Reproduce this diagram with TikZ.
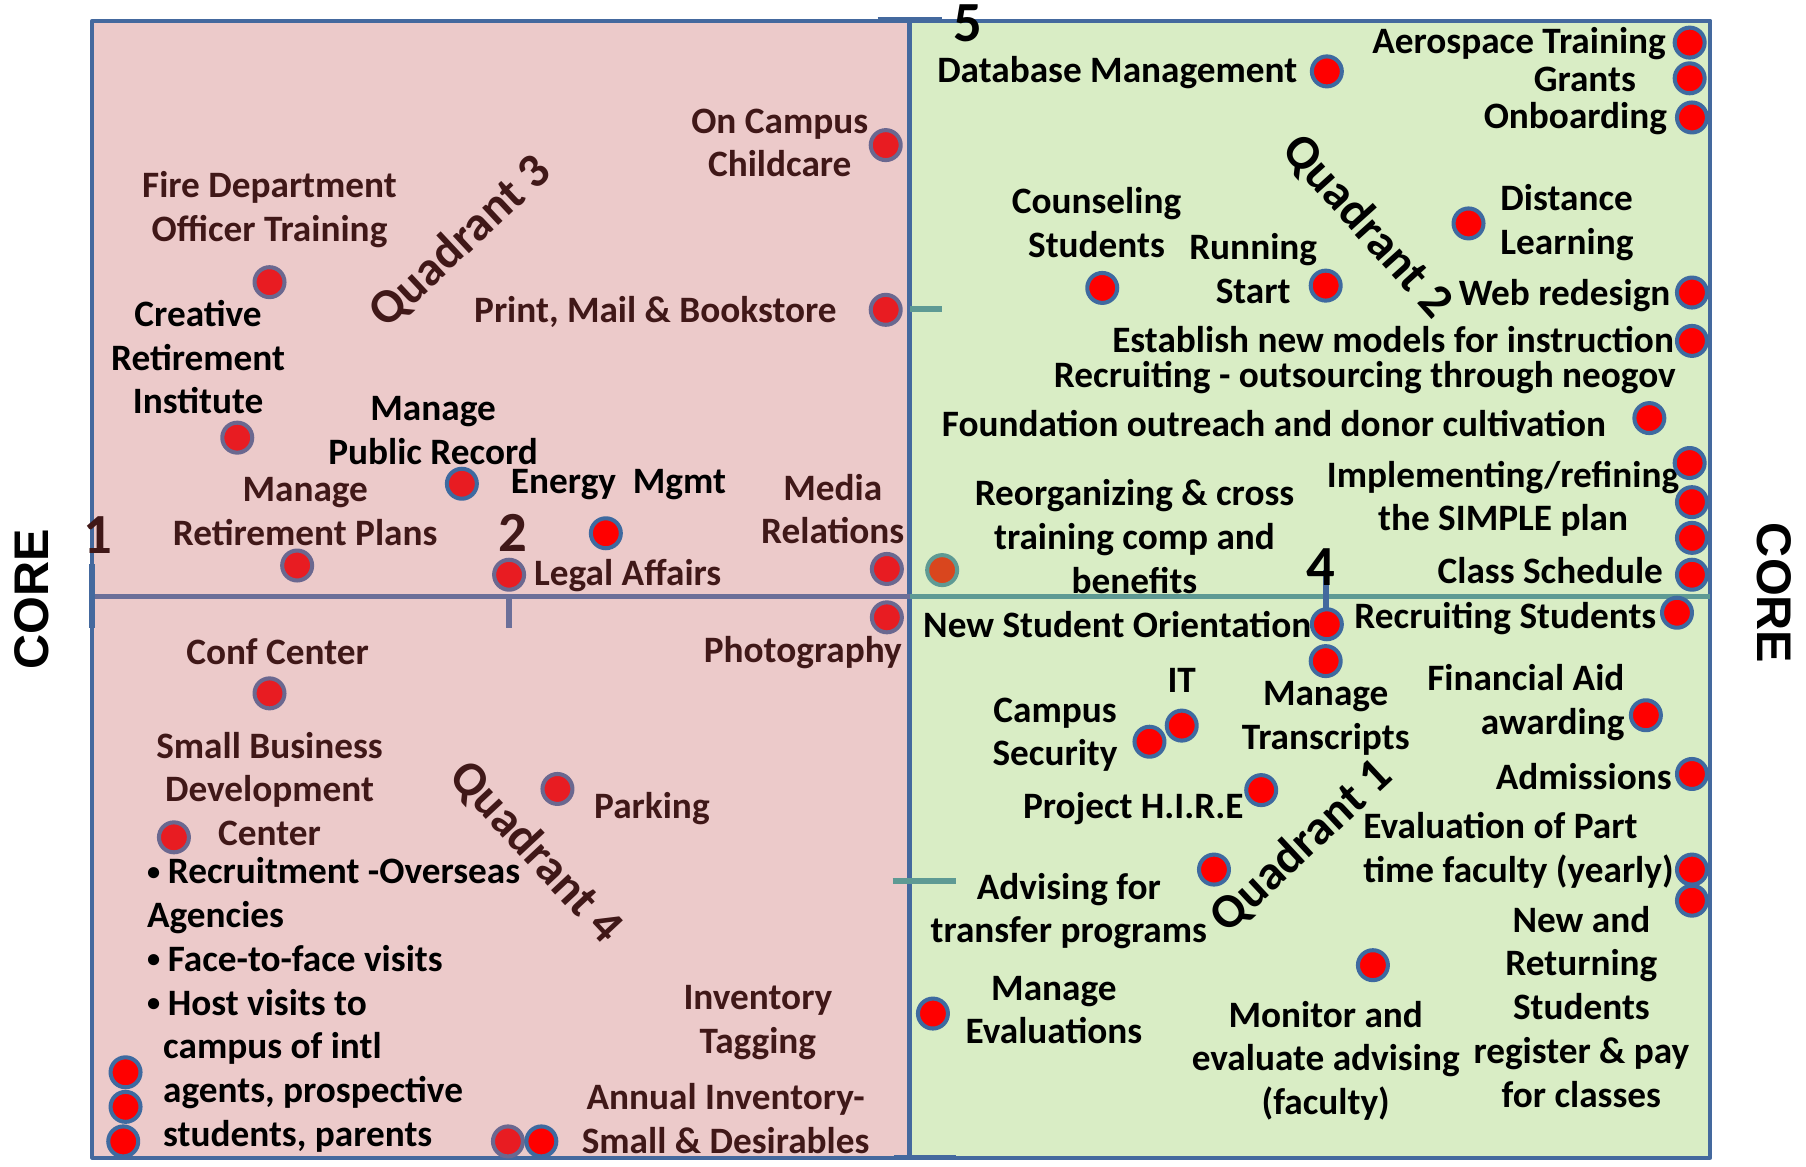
\documentclass[tikz,border=0pt]{standalone}
\usepackage{fontspec}
\setmainfont{Carlito}
\newfontfamily\corefont{Liberation Sans}
\definecolor{pinkbg}{RGB}{236,202,202}
\definecolor{greenbg}{RGB}{217,237,197}
\definecolor{frameblue}{RGB}{68,105,158}
\definecolor{midpurple}{RGB}{107,111,153}
\definecolor{midteal}{RGB}{94,154,148}
\definecolor{txtbrown}{RGB}{64,24,24}
\definecolor{dotred}{RGB}{255,0,0}
\definecolor{ldotred}{RGB}{232,28,34}
\definecolor{ldotedge}{RGB}{106,104,144}
\definecolor{rdotedge}{RGB}{62,106,160}
\definecolor{odot}{RGB}{217,70,30}
\newcommand{\lblfont}{\bfseries\fontsize{9.2}{10.8}\selectfont}
\newcommand{\bul}{\makebox[1.8mm][l]{\raisebox{0.2ex}{\fontsize{6.5}{7}\selectfont\textbullet}}}
\begin{document}
\begin{tikzpicture}[x=0.01cm,y=-0.01cm,line join=round,
    lbl/.style={font=\lblfont,text=txtbrown,align=center,inner sep=0pt},
    rlbl/.style={lbl,text=black},
    numlbl/.style={font=\bfseries\fontsize{14}{16}\selectfont,inner sep=0pt},
    quad/.style={font=\bfseries\fontsize{12}{14}\selectfont,inner sep=0pt},
    ldot/.style={circle,fill=ldotred,draw=ldotedge,line width=1pt,minimum size=0.26cm,inner sep=0pt},
    rdot/.style={circle,fill=dotred,draw=rdotedge,line width=1pt,minimum size=0.26cm,inner sep=0pt},
    tick/.style={line width=1.4pt}]
\useasboundingbox (0,0) rectangle (1568,1013);
% quadrant backgrounds
\fill[pinkbg] (80,18) rectangle (790,1005);
\fill[greenbg] (790,18) rectangle (1485,1005);
\draw[frameblue,line width=1pt] (80,18) rectangle (1485,1005);
\draw[frameblue,line width=1.2pt] (790,18) -- (790,1005);
\draw[midpurple,line width=1.4pt] (80,518) -- (790,518);
\draw[midteal,line width=1.4pt] (790,518) -- (1485,518);
% ticks
\draw[tick,frameblue] (80,490) -- (80,545);
\draw[tick,midpurple] (442,518) -- (442,545);
\draw[tick,frameblue] (762,17) -- (818,17);
\draw[tick,frameblue] (776,1005) -- (830,1005);
\draw[tick,midteal] (790,268) -- (818,268);
\draw[tick,midteal] (775,765) -- (830,765);
\draw[tick,frameblue] (1151,495) -- (1151,535);

% core labels
\node[font=\corefont\bfseries\fontsize{12}{14}\selectfont,rotate=90,inner sep=0pt] (coreL) at (28,520) {CORE};
\node[font=\corefont\bfseries\fontsize{12}{14}\selectfont,rotate=-90,inner sep=0pt] (coreR) at (1540,515) {CORE};

% numbers
\node[numlbl,text=txtbrown] (n1) at (85,465) {1};
\node[numlbl,text=txtbrown] (n2) at (445,463) {2};
\node[numlbl] (n4) at (1147,492) {4};
\node[numlbl] (n5) at (840,20) {5};

% quadrant names
\node[quad,text=txtbrown,rotate=43] (q3) at (400,210) {Quadrant 3};
\node[quad,rotate=-48] (q2) at (1187,197) {Quadrant 2};
\node[quad,rotate=43] (q1) at (1130,735) {Quadrant 1};
\node[quad,text=txtbrown,rotate=-47] (q4) at (465,740) {Quadrant 4};

% left half
\node[lbl] (childcare) at (677,124) {On Campus\\Childcare};
\node[lbl] (fire) at (234,182) {Fire Department\\Officer Training};
\node[rlbl] (creative) at (172,310) {Creative\\Retirement\\Institute};
\node[lbl] (print) at (569,271) {Print, Mail \& Bookstore};
\node[rlbl] (pubrec) at (376,374) {Manage\\Public Record};
\node[lbl] (retplan) at (265,444) {Manage\\Retirement Plans};
\node[rlbl] (energy) at (537,421) {Energy\ \ Mgmt};
\node[lbl] (media) at (723,442) {Media\\Relations};
\node[lbl] (legal) at (545,500) {Legal Affairs};
\node[lbl] (photo) at (697,567) {Photography};
\node[lbl] (conf) at (241,566) {Conf Center};
\node[lbl] (sbdc) at (234,685) {Small Business\\Development\\Center};
\node[lbl] (parking) at (566,702) {Parking};
\node[lbl] (invtag) at (658,888) {Inventory\\Tagging};
\node[lbl] (annual) at (630,971) {Annual Inventory-\\Small \& Desirables};
\node[rlbl,align=left,anchor=north west] (recruit) at (127,744)
  {\bul Recruitment -Overseas\\
   Agencies\\
   \bul Face-to-face visits\\
   \bul Host visits to\\
   \hspace*{1.4mm}campus of intl\\
   \hspace*{1.4mm}agents, prospective\\
   \hspace*{1.4mm}students, parents};

\node[ldot] (dchild) at (769,126) {};
\node[ldot] (dfire) at (234,245) {};
\node[ldot] (dprint) at (769,269) {};
\node[ldot] (dcreative) at (206,380) {};
\node[ldot,draw=rdotedge] (dpubrec) at (401,420) {};
\node[ldot,draw=rdotedge,fill=dotred] (denergy) at (526,463) {};
\node[ldot] (dretplan) at (258,491) {};
\node[ldot] (dlegal) at (442,499) {};
\node[ldot] (dmedia) at (770,494) {};
\node[ldot] (dphoto) at (770,536) {};
\node[ldot] (dconf) at (234,602) {};
\node[ldot] (dparking) at (484,685) {};
\node[ldot] (dsbdc) at (151,727) {};
\node[rdot] (drec1) at (109,931) {};
\node[rdot] (drec2) at (109,961) {};
\node[rdot] (drec3) at (107,991) {};
\node[ldot] (dinv1) at (441,991) {};
\node[rdot] (dinv2) at (470,991) {};

% right half
\node[rlbl] (dbm) at (970,63) {Database Management};
\node[rlbl,anchor=east] (aero) at (1447,38) {Aerospace Training};
\node[rlbl] (grants) at (1376,69) {Grants};
\node[rlbl,anchor=east] (onb) at (1448,103) {Onboarding};
\node[rlbl] (couns) at (952,193) {Counseling\\Students};
\node[rlbl] (run) at (1088,233) {Running\\Start};
\node[rlbl,anchor=west,align=left] (dist) at (1302,193) {Distance\\Learning};
\node[rlbl,anchor=east] (web) at (1451,257) {Web redesign};
\node[rlbl,anchor=east] (estab) at (1454,295) {Establish new models for instruction};
\node[rlbl] (neogov) at (1185,328) {Recruiting - outsourcing through neogov};
\node[rlbl] (found) at (1106,368) {Foundation outreach and donor cultivation};
\node[rlbl] (reorg) at (985,466) {Reorganizing \& cross\\training comp and\\benefits};
\node[rlbl] (simple) at (1305,433) {Implementing/refining\\the SIMPLE plan};
\node[rlbl] (class) at (1346,495) {Class Schedule};
\node[rlbl] (nso) at (970,542) {New Student Orientation};
\node[rlbl] (recstud) at (1307,537) {Recruiting Students};
\node[rlbl] (it) at (1026,591) {IT};
\node[rlbl] (campsec) at (916,638) {Campus\\Security};
\node[rlbl] (trans) at (1151,624) {Manage\\Transcripts};
\node[rlbl,anchor=east,align=right] (finaid) at (1411,610) {Financial Aid\\awarding};
\node[rlbl] (adm) at (1375,674) {Admissions};
\node[rlbl] (hire) at (984,702) {Project H.I.R.E};
\node[rlbl,anchor=west,align=left] (evalpt) at (1183,738) {Evaluation of Part\\time faculty (yearly)};
\node[rlbl] (advise) at (928,791) {Advising for\\transfer programs};
\node[rlbl] (newret) at (1373,874) {New and\\Returning\\Students\\register \& pay\\for classes};
\node[rlbl] (maneval) at (915,877) {Manage\\Evaluations};
\node[rlbl] (monitor) at (1151,921) {Monitor and\\evaluate advising\\(faculty)};

\node[rdot,fill=odot,draw=midteal] (dreorg) at (818,495) {};
\node[rdot] (ddbm) at (1152,62) {};
\node[rdot] (daero) at (1467,37) {};
\node[rdot] (dgrants) at (1467,68) {};
\node[rdot] (donb) at (1469,102) {};
\node[rdot] (ddist) at (1275,194) {};
\node[rdot] (dcouns) at (957,250) {};
\node[rdot] (drun) at (1151,248) {};
\node[rdot] (dweb) at (1469,254) {};
\node[rdot] (destab) at (1469,296) {};
\node[rdot] (dfound) at (1432,363) {};
\node[rdot] (dsimple1) at (1467,402) {};
\node[rdot] (dsimple2) at (1469,436) {};
\node[rdot] (dsimple3) at (1469,467) {};
\node[rdot] (dclass) at (1469,499) {};
\node[rdot] (drecstud) at (1456,532) {};
\node[rdot] (dnso) at (1152,542) {};
\node[rdot] (dtrans) at (1151,574) {};
\node[rdot] (dcampsec) at (998,644) {};
\node[rdot] (dit) at (1026,630) {};
\node[rdot] (dfinaid) at (1429,621) {};
\node[rdot] (dadm) at (1469,672) {};
\node[rdot] (dhire) at (1095,686) {};
\node[rdot] (dadvise) at (1054,755) {};
\node[rdot] (devalpt) at (1469,755) {};
\node[rdot] (dnewret) at (1469,782) {};
\node[rdot] (dmonitor) at (1192,838) {};
\node[rdot] (dmaneval) at (810,880) {};
\end{tikzpicture}
\end{document}
